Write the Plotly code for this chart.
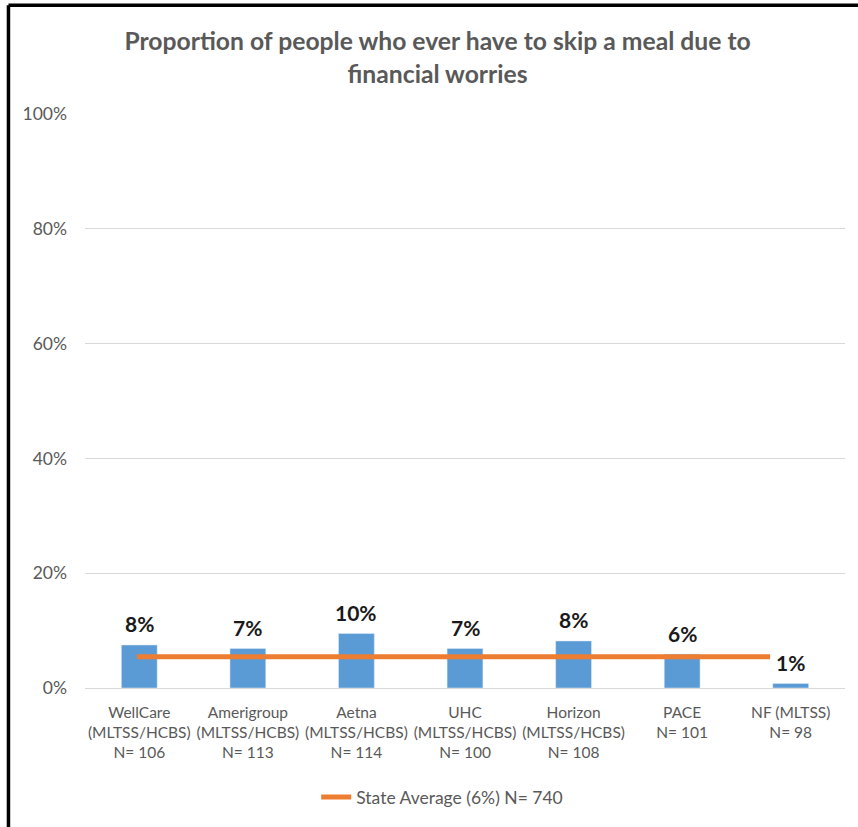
import plotly.graph_objects as go

categories = [
    "WellCare<br>(MLTSS/HCBS)<br>N= 106",
    "Amerigroup<br>(MLTSS/HCBS)<br>N= 113",
    "Aetna<br>(MLTSS/HCBS)<br>N= 114",
    "UHC<br>(MLTSS/HCBS)<br>N= 100",
    "Horizon<br>(MLTSS/HCBS)<br>N= 108",
    "PACE<br>N= 101",
    "NF (MLTSS)<br>N= 98",
]
values = [7.5, 6.9, 9.5, 6.9, 8.2, 5.9, 0.8]
value_labels = ["8%", "7%", "10%", "7%", "8%", "6%", "1%"]
state_average = [5.45] * 7
line_points = [0, 1, 2, 3, 4, 5, 6]
legend_name = "State Average (6%) N= 740"
y_ticks = [0, 20, 40, 60, 80, 100]
y_tick_labels = ["0%", "20%", "40%", "60%", "80%", "100%"]

FONT = "Lato, 'Open Sans', sans-serif"
GRAY = "#595959"

fig = go.Figure()
fig.add_trace(go.Bar(
    x=categories, y=values, marker_color="#5B9BD5",
    showlegend=False, hoverinfo="skip",
))
fig.add_trace(go.Scatter(
    x=line_points, y=state_average, mode="lines", xaxis="x2",
    line=dict(color="#ED7D31", width=5), name=legend_name,
))

for c, v, t in zip(categories, values, value_labels):
    fig.add_annotation(x=c, y=v, text="<b>%s</b>" % t, showarrow=False,
                       yshift=21, font=dict(family=FONT, size=21, color="#1a1a1a"))

# frame lines (top and left)
fig.add_shape(type="line", xref="paper", yref="paper",
              x0=-0.1007, x1=1.2, y0=1.1895, y1=1.1895,
              line=dict(color="black", width=3.5))
fig.add_shape(type="line", xref="paper", yref="paper",
              x0=-0.1007, x1=-0.1007, y0=1.1895, y1=-0.3,
              line=dict(color="black", width=3.5))

fig.update_layout(
    width=858, height=827,
    margin=dict(l=85, r=13, t=114, b=139, autoexpand=False),
    paper_bgcolor="white", plot_bgcolor="white",
    bargap=0.67,
    title=dict(
        text="<b>Proportion of people who ever have to skip a meal due to<br>financial worries</b>",
        x=0.51, xanchor="center", y=0.939, yanchor="middle",
        font=dict(family=FONT, size=24.7, color=GRAY),
    ),
    legend=dict(orientation="h", x=0.47, xanchor="center", y=-0.19, yanchor="middle",
                font=dict(family=FONT, size=17.5, color=GRAY)),
    font=dict(family=FONT, color=GRAY),
    xaxis2=dict(overlaying="x", range=[-0.493, 6.71], visible=False,
                fixedrange=True),
)
fig.update_yaxes(range=[0, 100], tickvals=y_ticks, ticktext=y_tick_labels,
                 showgrid=True, gridcolor="#D9D9D9", gridwidth=1,
                 zeroline=True, zerolinecolor="#D9D9D9", zerolinewidth=1,
                 tickfont=dict(family=FONT, size=17.5, color=GRAY),
                 ticklabelstandoff=17, automargin=False, fixedrange=True)
fig.update_layout(xaxis=dict(tickfont=dict(family=FONT, size=15.5, color=GRAY),
                             showline=False, ticks="", ticklabelstandoff=13,
                             automargin=False))

fig.write_html("out.html", config={"displayModeBar": False},
               post_script="document.body.style.margin='0';")
